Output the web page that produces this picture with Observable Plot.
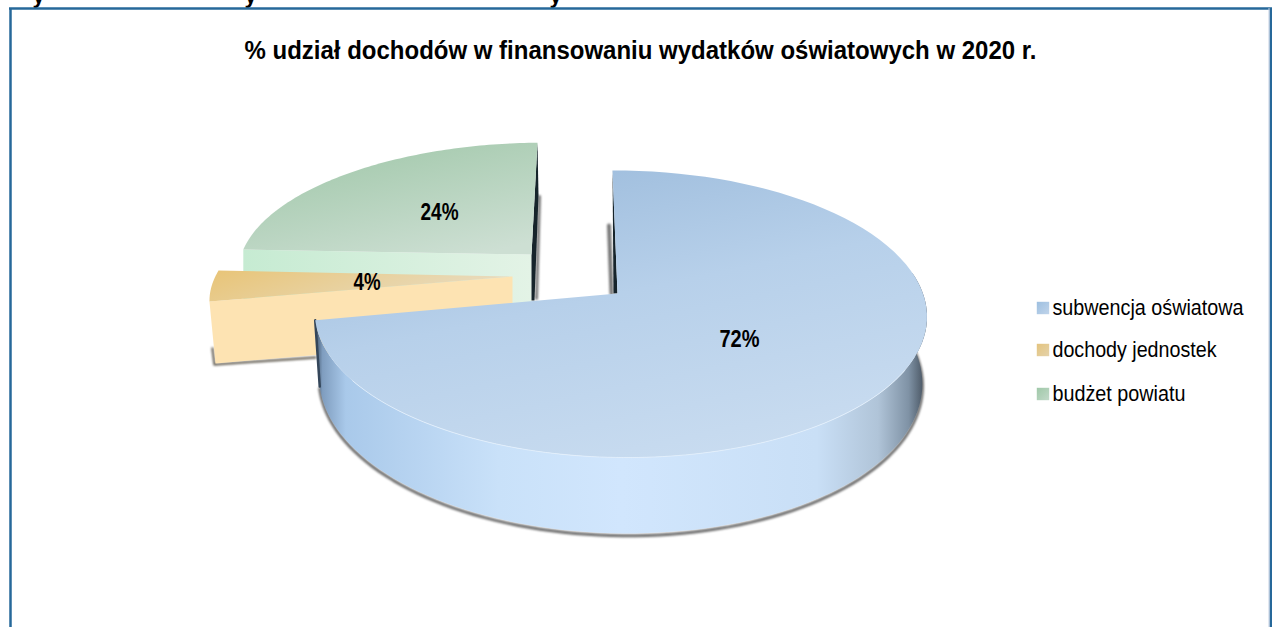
<!DOCTYPE html>
<html lang="pl">
<head>
<meta charset="utf-8">
<script src="https://cdn.jsdelivr.net/npm/d3@7"></script>
<script src="https://cdn.jsdelivr.net/npm/@observablehq/plot@0.6"></script>
<style>html,body{margin:0;padding:0;background:#fff;overflow:hidden}svg{display:block}</style>
</head>
<body>
<div id="chart"></div>
<script>
const categories = ["subwencja oświatowa", "dochody jednostek", "budżet powiatu"];
const shares = [72, 4, 24];
const titleText = "% udział dochodów w finansowaniu wydatków oświatowych w 2020 r.";
const clippedHeadingLetters = ["y", "y", "y"];
const clippedHeadingX = [38, 250, 555];

const W = 1272, H = 627, FONT = "Liberation Sans, Arial, sans-serif";

// perspective view of each exploded slice
const views = [
  {cx: 617, cy: 293, R: 303, a: 140.6, p: .143, e: 5.7, q: .008, t: 0, h: 65, dx: 0, shrink: .985},
  {cx: 512, cy: 276, R: 298, a: 124, p: 0, e: -55, q: 0, t: 1.8, h: 62, dx: 6, shrink: 1},
  {cx: 531, cy: 254, R: 291, a: 123, p: .1, e: -6.6, q: 0, t: 2.7, h: 55, dx: 0, shrink: 1}
];
const arcs = d3.pie().sort(null).value(d => d).startAngle(0).endAngle(2 * Math.PI)(shares);
const proj = (view, theta, f = 1, drop = 0) => {
  const u = f * Math.sin(theta), v = f * Math.cos(theta);
  const s = 1 / (1 + view.p * v - view.q * u);
  const k = drop ? view.shrink : 1;
  return {
    x: view.cx + k * s * (view.R * u - view.e * v) + (drop ? view.dx * f : 0),
    y: view.cy - s * (view.a * v + view.t * u) + drop * s
  };
};
const sweep = (view, a0, a1, drop = 0, n = 90) =>
  d3.range(n + 1).map(i => proj(view, a0 + (a1 - a0) * i / n, 1, drop));
const face = i => [proj(views[i], 0, 0), ...sweep(views[i], arcs[i].startAngle, arcs[i].endAngle)];
const poly = (pts, fill, extra = {}) => Plot.line(pts, {x: "x", y: "y", fill, stroke: "none", curve: "linear", ...extra});
const stroke = (pts, color, width, extra = {}) =>
  Plot.line(pts, {x: "x", y: "y", stroke: color, strokeWidth: width, fill: "none", curve: "linear", ...extra});

const gradient = (id, stops, x1 = 0, y1 = 0, x2 = 1, y2 = 0) => `<linearGradient id="${id}" x1="${x1}" y1="${y1}" x2="${x2}" y2="${y2}">` +
  stops.map(([o, c]) => `<stop offset="${o}" stop-color="${c}"/>`).join("") + `</linearGradient>`;
const defs = () => {
  const g = document.createElementNS("http://www.w3.org/2000/svg", "g");
  g.innerHTML = "<defs>" +
    gradient("blueTop", [[0, "#9dbcdc"], [.45, "#b7d0ea"], [1, "#c9dcf0"]], .25, 0, .7, 1) +
    gradient("blueWall", [[0, "#3f5268"], [.012, "#7f9dbf"], [.05, "#a9c9ea"], [.3, "#c9e1f9"], [.5, "#d1e6fd"], [.82, "#c9dff6"], [.92, "#b0c4d8"], [.97, "#7f92a5"], [1, "#3f4a56"]]) +
    gradient("orangeTop", [[0, "#e8c477"], [1, "#e8dcc0"]], 0, 0, 1, .3) +
    gradient("greenTop", [[0, "#a0c7a9"], [1, "#cddfd3"]], .2, 0, .8, 1) +
    gradient("greenWall", [[0, "#c6ebd2"], [1, "#e3f3e6"]]) +
    gradient("lg0", [[0, "#9dbfe0"], [1, "#c0d4ea"]], 0, 0, 1, 1) +
    gradient("lg1", [[0, "#e4c47e"], [1, "#e4d2aa"]], 0, 0, 1, 1) +
    gradient("lg2", [[0, "#9fc8a8"], [1, "#c2d9c9"]], 0, 0, 1, 1) +
    "</defs>";
  return g;
};

const [vB, vO, vG] = views;
const wallOf = (view, a0, a1) => [...sweep(view, a0, a1), ...sweep(view, a0, a1, view.h).reverse()];
const blueFrontStart = 1.42;

// side walls seen from the front
const greenWall = [proj(vG, arcs[2].startAngle), proj(vG, 0, 0), proj(vG, 0, 0, 55), proj(vG, arcs[2].startAngle, 1, 55)];
const orangeWall = [proj(vO, arcs[1].startAngle), proj(vO, 0, 0), proj(vO, 0, 0, 62), proj(vO, arcs[1].startAngle, 1, 62)];
const blueWall = wallOf(vB, blueFrontStart, arcs[0].endAngle);
const blueLeftEdge = [proj(vB, arcs[0].endAngle), proj(vB, arcs[0].endAngle, 1, vB.h)];

const labels = arcs.map((arc, i) => ({
  ...proj(views[i], (arc.startAngle + arc.endAngle) / 2, .49),
  text: `${shares[i]}%`
}));
labels[1].x += 2; labels[1].y += 1;
const labelWidths = [40, 27, 38];
const legendY = [307.5, 349.5, 393.5];
const legendWidths = [191, 164, 133];
const legend = categories.map((name, i) => ({name, x: 1042.5, y: legendY[i], i}));
const blurSoft = "blur(1.2px)";

const chart = Plot.plot({
  width: W, height: H, margin: 0,
  x: {domain: [0, W], range: [0, W], axis: null},
  y: {domain: [0, H], range: [0, H], axis: null},
  style: {background: "#fff", fontFamily: FONT},
  marks: [
    defs,
    // clipped heading above the frame
    Plot.text(clippedHeadingLetters, {x: (d, i) => clippedHeadingX[i], y: 1, text: d => d, fontSize: 22, fontWeight: "bold", fill: "#000", lineAnchor: "bottom", dy: 1}),
    // frame
    Plot.ruleY([8], {x1: 9, x2: W, stroke: "#26689a", strokeWidth: 2.5}),
    Plot.ruleX([10], {y1: 8, y2: H, stroke: "#26689a", strokeWidth: 2.5}),
    Plot.ruleX([1270.5], {y1: 8, y2: H, stroke: "#26689a", strokeWidth: 3}),
    Plot.ruleX([1268.5], {y1: 8, y2: H, stroke: "#c3cfe2", strokeWidth: 1}),
    // green slice
    stroke([{x: 539, y: 196}, {x: 536, y: 298}], "#777", 3, {imageFilter: blurSoft}),
    poly(greenWall, "url(#greenWall)"),
    poly([proj(vG, 0, 1), {x: 538, y: 195}, {x: 534, y: 300}, {x: 531, y: 300}, proj(vG, 0, 0)], "#16242b"),
    poly(face(2), "url(#greenTop)"),
    // orange slice
    stroke([{x: 212, y: 348}, {x: 214, y: 364}, {x: 315, y: 357}], "#6f6a60", 2.5, {imageFilter: blurSoft}),
    poly(orangeWall, "#fde3b2"),
    poly(face(1), "url(#orangeTop)"),
    // blue slice
    stroke(sweep(vB, 1.42, arcs[0].endAngle, 67), "#6b6b6b", 3, {imageFilter: blurSoft}),
    stroke([{x: 608.5, y: 225}, {x: 611, y: 293}], "#777", 4, {imageFilter: blurSoft}),
    poly([proj(vB, 0, 1), proj(vB, 0, 0), {x: 613, y: 293}], "#16242b"),
    poly(blueWall, "url(#blueWall)"),
    stroke(blueLeftEdge, "#34465a", 2.5, {imageFilter: "blur(.6px)"}),
    poly(face(0), "url(#blueTop)"),
    stroke(sweep(vB, 2.1, 4.1), "#e4f0fd", 1, {strokeOpacity: .8}),
    // values
    Plot.text(labels, {x: "x", y: "y", text: "text", fontSize: 23, fontWeight: "bold", fill: "#000", className: "value-label"}),
    // title
    Plot.text([titleText], {x: 640, y: 50, text: d => d, fontSize: 26, fontWeight: "bold", fill: "#000", className: "chart-title"}),
    // legend
    ...legend.map(d => Plot.dot([d], {x: "x", y: "y", r: 7, symbol: "square", fill: `url(#lg${d.i})`, stroke: "none"})),
    Plot.text(legend, {x: 1052, y: "y", text: "name", textAnchor: "start", fontSize: 21.5, fill: "#000", className: "legend-label"})
  ]
});
const fit = (cls, widths) => d3.select(chart).selectAll(`.${cls} text`)
  .attr("textLength", (d, i) => widths[i]).attr("lengthAdjust", "spacingAndGlyphs");
fit("chart-title", [792]);
fit("value-label", labelWidths);
fit("legend-label", legendWidths);
document.getElementById("chart").append(chart);
</script>
</body>
</html>
